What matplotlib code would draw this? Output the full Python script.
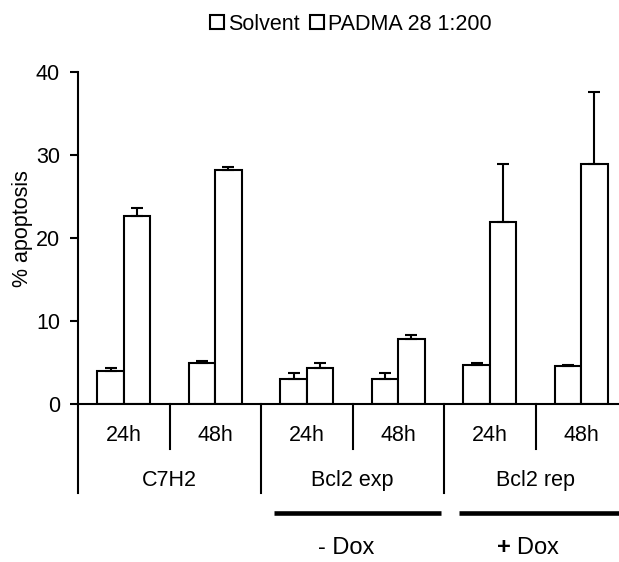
import matplotlib
matplotlib.use("Agg")
import matplotlib.pyplot as plt
import numpy as np

plt.rcParams['font.family'] = ['Liberation Sans', 'DejaVu Sans']
plt.rcParams['mathtext.fontset'] = 'custom'
plt.rcParams['mathtext.rm'] = 'Liberation Sans'
plt.rcParams['mathtext.bf'] = 'Liberation Sans:bold'

# ---- data ----
time_labels = ["24h", "48h", "24h", "48h", "24h", "48h"]
group_labels = ["C7H2", "Bcl2 exp", "Bcl2 rep"]
dox_labels = ["- Dox", r"$\mathbf{+}$ Dox"]
series_names = ["Solvent", "PADMA 28 1:200"]
solvent = [4.0, 5.0, 3.0, 3.0, 4.75, 4.55]
solvent_err = [0.3, 0.2, 0.7, 0.75, 0.2, 0.2]
padma = [22.7, 28.25, 4.3, 7.85, 21.9, 28.95]
padma_err = [0.9, 0.3, 0.6, 0.45, 7.05, 8.6]

W, H = 619, 562
fig = plt.figure(figsize=(W / 100, H / 100), dpi=100)
left_px, bottom_px, top_px = 78, 404, 72
ax = fig.add_axes([left_px / W, 1 - bottom_px / H, 1 - left_px / W, (bottom_px - top_px) / H])

cat_px = 91.5
x = np.arange(len(time_labels))
bw = 0.287
lw = 1.5
fs = 15.5

b1 = ax.bar(x - bw / 2, solvent, bw, facecolor='white', edgecolor='black', linewidth=lw,
            label=series_names[0], zorder=2)
b2 = ax.bar(x + bw / 2, padma, bw, facecolor='white', edgecolor='black', linewidth=lw,
            label=series_names[1], zorder=2)
ax.errorbar(x - bw / 2, solvent, yerr=[np.zeros(len(x)), solvent_err], fmt='none',
            ecolor='black', elinewidth=lw, capsize=4.3, capthick=lw, zorder=3)
ax.errorbar(x + bw / 2, padma, yerr=[np.zeros(len(x)), padma_err], fmt='none',
            ecolor='black', elinewidth=lw, capsize=4.3, capthick=lw, zorder=3)

ax.set_xlim(-0.5, -0.5 + (W - left_px) / cat_px)
ax.set_ylim(0, 40)
ax.set_yticks([0, 10, 20, 30, 40])
ax.tick_params(axis='y', direction='out', length=6, width=lw, labelsize=fs, pad=7)
ax.set_xticks([])
for s in ['top', 'right']:
    ax.spines[s].set_visible(False)
for s in ['left', 'bottom']:
    ax.spines[s].set_linewidth(lw)
    ax.spines[s].set_capstyle('projecting')

ax.set_ylabel("% apoptosis", fontsize=fs)
ax.yaxis.set_label_coords(-0.083, 0.527)

trans = ax.get_xaxis_transform()
# separators below axis
for xi in [-0.5, 1.5, 3.5, 5.5]:
    ax.plot([xi, xi], [0, -0.268], transform=trans, color='black', lw=lw, clip_on=False)
for xi in [0.5, 2.5, 4.5]:
    ax.plot([xi, xi], [0, -0.136], transform=trans, color='black', lw=lw, clip_on=False)

for xi, t in zip(x, time_labels):
    ax.text(xi, -0.0935, t, transform=trans, ha='center', va='center', fontsize=fs)
for gi, g in enumerate(group_labels):
    ax.text(2 * gi + 0.5, -0.229, g, transform=trans, ha='center', va='center', fontsize=fs)

# Dox bars
dox_spans = [(1.642, 3.467), (3.664, 5.6)]
dox_text_x = [2.436, 4.418]
for (a, b), tx, lab in zip(dox_spans, dox_text_x, dox_labels):
    ax.plot([a, b], [-0.3277, -0.3277], transform=trans, color='black', lw=3.3,
            solid_capstyle='butt', clip_on=False)
    ax.text(tx, -0.4346, lab, transform=trans, ha='center', va='center', fontsize=17)

fig.legend(handles=[b1, b2], labels=series_names, loc='center',
           bbox_to_anchor=(351 / W, 1 - 24 / H), ncol=2, frameon=False,
           handlelength=0.65, handleheight=0.65, handletextpad=0.2,
           columnspacing=0.45, fontsize=fs, borderaxespad=0, borderpad=0)

fig.savefig("out.png", dpi=100)
